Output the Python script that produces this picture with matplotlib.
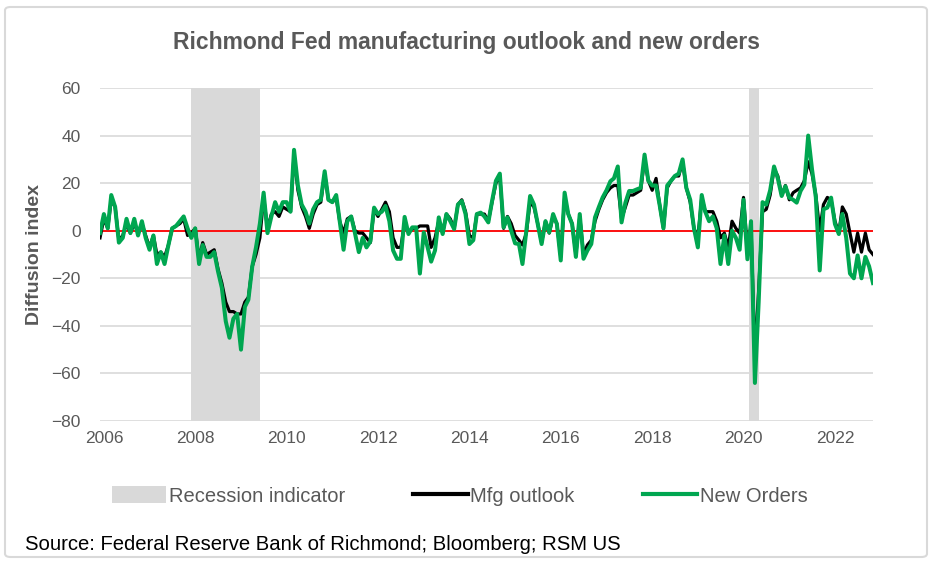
import matplotlib
matplotlib.use("Agg")
import matplotlib.pyplot as plt
import matplotlib.dates as mdates
from matplotlib.patches import Patch, FancyBboxPatch
from matplotlib.lines import Line2D
import pandas as pd

plt.rcParams['font.family'] = ['Liberation Sans', 'DejaVu Sans']

# ---- data (monthly, starting Dec 2005) ----
start_month = '2005-12-01'

new_orders = [
    -1, 7, 1, 15, 10, -5, -3, 5, -1, 5, -2, 4, -3, -8, -2, -14, -9, -14, -6, 1,
    2, 4, 6, 1, -3, 1, -14, -6, -11, -11, -9, -17, -24, -38, -45,
    -37, -35, -50, -32, -29, -15, -7, 3, 16, -1, 6, 12, 8, 12, 12, 8, 34, 19,
    11, 8, 3, 9, 12, 13, 25, 13, 12, 15, 4, -8, 4, 6, -1, -9, -3, -7,
    -4.5, 9.7, 7, 8, 10.4, 4, -8.3, -11.8, -11.8, 5.8, -1.4, 1.4, 1.4, -18,
    -0.7, -7, -13, -8.3, 5.6, -1.4, 7, 4, 0.7, 11, 12.5, 7, -5.6, -4, 7, 7.6,
    6, 3.5, 12.5, 21, 24,
    1.4, 5.6, 0, -5.3, -5.6, -14, 0, 14.6, 11, 2.8, -5.6, 4, -0.7, 7, 2.8,
    -12.5, 16, 7, 2.8, -11, 7, -11.8, -8.3, -5.6, 5.6, 10, 14, 17, 20.8, 22,
    27, 3.5, 11.8, 16.7, 16.7, 17.4,
    18, 32, 21, 19, 19, 11, 1, 19, 21, 23, 24, 30, 18, 13, 1, -7, 15, 8, 4, 6,
    1, -14, -2, -14, 0, -3, -8, 13, -12, 4, -64, -30, 12, 11, 17, 27,
    22, 14.6, 18.7, 13.9, 13, 11.8, 16.7, 19.4, 40, 26, 14, -16.7, 9, 9.7,
    13.9, 2.8, -1.4, 7, -3, -18, -20, -10.4, -20, -11, -15, -22,
]

mfg_outlook = [
    -3, 5, 1, 13, 10, -4, -2, 3, -1, 3, -1, 3, -2, -7, -2, -10, -9, -11, -6, 1,
    2, 3, 5, -2, -1, 1, -12, -5, -10, -9, -8, -16, -22, -30, -34,
    -34, -35, -35, -30, -28, -15, -10, -3, 14, 1, 7, 8, 6, 10, 9, 8, 32, 17,
    10, 6, 1, 7, 11, 12, 24, 13, 12, 14, 4, -1, 5, 6, 0, -1, -1, -3,
    -5, 9, 6, 9, 12, 8, -3, -7, -7, 3, -1, 1, 1, 2, 2, 2, -7, -3, 4, -1, 7, 5,
    1, 11, 13, 8, -2, -3, 7, 7, 7, 4, 12, 20, 23,
    1, 6, 3, -2, -4, -6, -1, 12, 10, 3, -5, 4, -1, 6, 3, -11, 14, 7, 3, -10,
    6, -10, -6, -4, 4, 9, 13, 16, 18, 19, 19, 5, 10, 15, 15, 16,
    17, 30, 21, 17, 22, 11, 1, 18, 21, 23, 23, 29, 18, 12, 1, -3, 14, 8, 8, 8,
    4, -3, -1, -7, 4, 1, -1, 14, -8, 2, -53, -25, 8, 9, 15, 26,
    23, 15, 19, 13, 16, 17, 18, 21, 29, 24, 15, 0, 11, 14, 13, 4, -1, 10, 7,
    -1, -9, -1, -9, -1, -8, -10,
]

recession_starts = ['2007-12-01', '2020-02-15']
recession_ends = ['2009-06-05', '2020-05-05']

year_ticks = list(range(2006, 2023, 2))
y_ticks = [-80, -60, -40, -20, 0, 20, 40, 60]

title = 'Richmond Fed manufacturing outlook and new orders'
ylabel = 'Diffusion index'
source = 'Source: Federal Reserve Bank of Richmond; Bloomberg; RSM US'
labels = ['Recession indicator', 'Mfg outlook', 'New Orders']

# ---- figure ----
dates = pd.date_range(start_month, periods=len(new_orders), freq='MS')

fig = plt.figure(figsize=(9.38, 5.66), dpi=100)
ax = fig.add_axes([100/938, 1-421/566, 773/938, 333/566])

GREEN = '#00A650'
GRAY_TXT = '#595959'
GRID = '#D9D9D9'

for s, e in zip(recession_starts, recession_ends):
    ax.axvspan(pd.Timestamp(s), pd.Timestamp(e), color=GRID, lw=0, zorder=0)

ax.set_ylim(-80, 60)
ax.set_yticks(y_ticks)
ax.grid(axis='y', color=GRID, lw=1.2, zorder=0.5)
ax.set_axisbelow(True)
ax.axhline(0, color='#FF0000', lw=1.3, zorder=1)

ax.plot(dates, mfg_outlook, color='black', lw=2.3, zorder=2, solid_joinstyle='round')
ax.plot(dates, new_orders, color=GREEN, lw=2.9, zorder=3, solid_joinstyle='round')

ax.set_xlim(pd.Timestamp('2005-12-01'), pd.Timestamp('2022-11-01'))
ax.set_xticks([pd.Timestamp(f'{y}-01-01') for y in year_ticks])
ax.xaxis.set_major_formatter(mdates.DateFormatter('%Y'))

for sp in ax.spines.values():
    sp.set_visible(False)
ax.tick_params(axis='both', length=0, labelsize=12.5, labelcolor=GRAY_TXT)
ax.tick_params(axis='x', pad=7)
ax.tick_params(axis='y', pad=14)

ax.set_ylabel(ylabel, fontsize=14, fontweight='bold', color=GRAY_TXT)
ax.yaxis.set_label_coords(-0.074, 0.5)

fig.text(0.497, 1-42/566, title, ha='center', va='center', fontsize=16.5,
         fontweight='bold', color=GRAY_TXT)

handles = [Patch(facecolor=GRID, edgecolor='none'),
           Line2D([], [], color='black', lw=3),
           Line2D([], [], color=GREEN, lw=3)]
fig.legend(handles, labels, loc='center', bbox_to_anchor=(0.490, 1-496/566),
           ncol=3, frameon=False, fontsize=14.5, handlelength=2.7,
           handletextpad=0.12, columnspacing=3.4, handleheight=0.9,
           labelcolor=GRAY_TXT)

fig.text(25/938, 1-544/566, source, ha='left', va='center', fontsize=14.6,
         color='black')

border = FancyBboxPatch((5/938, 1-557/566), 922/938, 550/566,
                        boxstyle='round,pad=0,rounding_size=0.006',
                        transform=fig.transFigure, fill=False,
                        edgecolor=GRID, lw=1.5)
fig.patches.append(border)

fig.savefig('out.png', dpi=100)
